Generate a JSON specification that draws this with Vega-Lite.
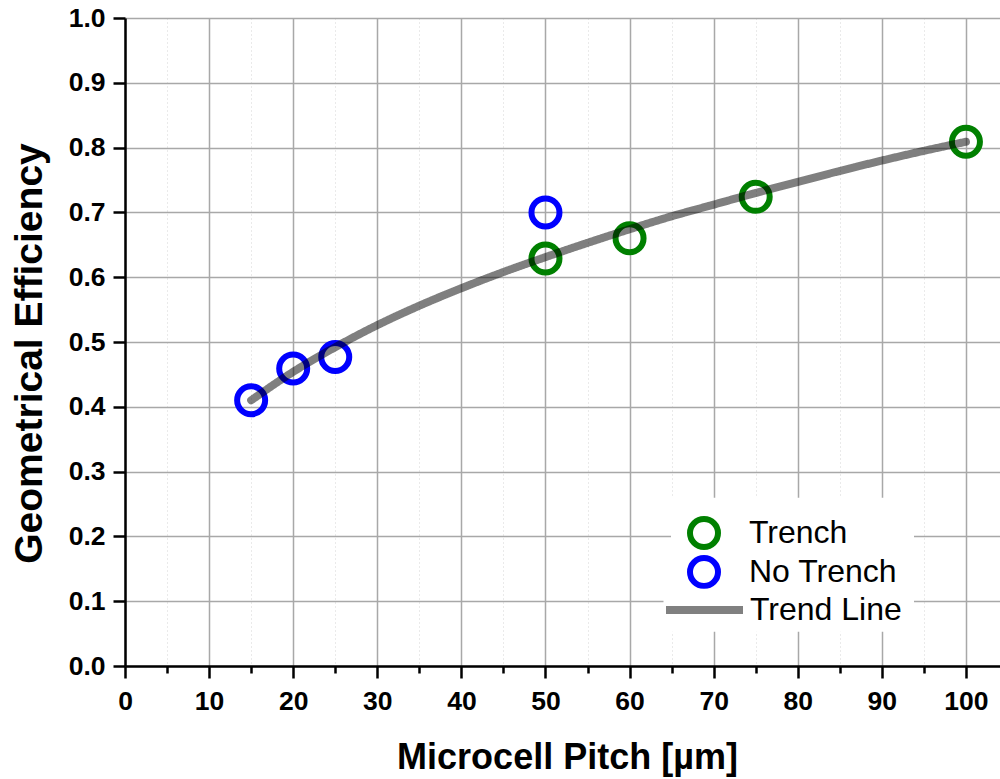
{
  "$schema": "https://vega.github.io/schema/vega-lite/v6.json",
  "width": 875,
  "height": 648,
  "autosize": "none",
  "padding": {"left": 125, "top": 18, "right": 0, "bottom": 113},
  "background": "white",
  "config": {
    "view": {"stroke": null},
    "font": "Liberation Sans"
  },
  "datasets": {
    "pts": [
      {"pitch": 50, "eff": 0.629, "series": "Trench"},
      {"pitch": 60, "eff": 0.660, "series": "Trench"},
      {"pitch": 75, "eff": 0.724, "series": "Trench"},
      {"pitch": 100, "eff": 0.809, "series": "Trench"},
      {"pitch": 15, "eff": 0.410, "series": "No Trench"},
      {"pitch": 20, "eff": 0.459, "series": "No Trench"},
      {"pitch": 25, "eff": 0.477, "series": "No Trench"},
      {"pitch": 50, "eff": 0.700, "series": "No Trench"}
    ],
    "trend": [
      {"pitch": 15, "eff": 0.410, "series": "Trend Line"},
      {"pitch": 20, "eff": 0.454, "series": "Trend Line"},
      {"pitch": 25, "eff": 0.492, "series": "Trend Line"},
      {"pitch": 30, "eff": 0.526, "series": "Trend Line"},
      {"pitch": 35, "eff": 0.556, "series": "Trend Line"},
      {"pitch": 40, "eff": 0.583, "series": "Trend Line"},
      {"pitch": 45, "eff": 0.608, "series": "Trend Line"},
      {"pitch": 50, "eff": 0.631, "series": "Trend Line"},
      {"pitch": 55, "eff": 0.653, "series": "Trend Line"},
      {"pitch": 60, "eff": 0.674, "series": "Trend Line"},
      {"pitch": 65, "eff": 0.694, "series": "Trend Line"},
      {"pitch": 70, "eff": 0.712, "series": "Trend Line"},
      {"pitch": 75, "eff": 0.730, "series": "Trend Line"},
      {"pitch": 80, "eff": 0.747, "series": "Trend Line"},
      {"pitch": 85, "eff": 0.764, "series": "Trend Line"},
      {"pitch": 90, "eff": 0.780, "series": "Trend Line"},
      {"pitch": 95, "eff": 0.795, "series": "Trend Line"},
      {"pitch": 100, "eff": 0.809, "series": "Trend Line"}
    ]
  },
  "layer": [
    {
      "data": {"name": "pts"},
      "mark": {"type": "point", "shape": "circle", "filled": false, "strokeWidth": 6, "size": 784, "opacity": 1},
      "encoding": {
        "x": {
          "field": "pitch", "type": "quantitative",
          "scale": {"domain": [0, 104.05], "nice": false, "zero": false},
          "axis": {
            "title": "Microcell Pitch [µm]",
            "titleFontSize": 36, "titleFontWeight": "bold", "titleColor": "black", "titleFont": "Liberation Sans",
            "titlePadding": 26, "titleX": 442,
            "values": [0,5,10,15,20,25,30,35,40,45,50,55,60,65,70,75,80,85,90,95,100],
            "labelExpr": "datum.value % 10 === 0 ? datum.label : ''",
            "labelFontSize": 26.5, "labelFontWeight": "bold", "labelColor": "black", "labelFont": "Liberation Sans",
            "labelPadding": 10, "labelFlush": false, "labelOverlap": false,
            "domainColor": "black", "domainWidth": 2.5,
            "tickColor": "black", "tickWidth": 2.5,
            "tickSize": {"condition": {"test": "datum.value % 10 === 0", "value": 12}, "value": 7},
            "grid": true,
            "gridColor": {"condition": {"test": "datum.value % 10 === 0", "value": "#a8a8a8"}, "value": "#d4d4d4"},
            "gridDash": {"condition": {"test": "datum.value % 10 === 0", "value": []}, "value": [1, 3]},
            "gridWidth": {"condition": {"test": "datum.value % 10 === 0", "value": 1.5}, "value": 1}
          }
        },
        "y": {
          "field": "eff", "type": "quantitative",
          "scale": {"domain": [0, 1], "nice": false, "zero": false},
          "axis": {
            "title": "Geometrical Efficiency",
            "titleFontSize": 39, "titleFontWeight": "bold", "titleColor": "black", "titleFont": "Liberation Sans",
            "titlePadding": 19, "titleY": 335,
            "values": [0,0.05,0.1,0.15,0.2,0.25,0.3,0.35,0.4,0.45,0.5,0.55,0.6,0.65,0.7,0.75,0.8,0.85,0.9,0.95,1.0],
            "format": ".1f",
            "labelExpr": "abs(datum.value*10 - round(datum.value*10)) < 0.001 ? datum.label : ''",
            "labelFontSize": 26.5, "labelFontWeight": "bold", "labelColor": "black", "labelFont": "Liberation Sans",
            "labelPadding": 8, "labelFlush": false, "labelOverlap": false,
            "domainColor": "black", "domainWidth": 2.5,
            "tickColor": "black", "tickWidth": 2.5,
            "tickSize": {"condition": {"test": "abs(datum.value*10 - round(datum.value*10)) < 0.001", "value": 12}, "value": 7},
            "grid": true,
            "gridColor": {"condition": {"test": "abs(datum.value*10 - round(datum.value*10)) < 0.001", "value": "#a8a8a8"}, "value": "#d4d4d4"},
            "gridDash": {"condition": {"test": "abs(datum.value*10 - round(datum.value*10)) < 0.001", "value": []}, "value": [1, 3]},
            "gridWidth": {"condition": {"test": "abs(datum.value*10 - round(datum.value*10)) < 0.001", "value": 1.5}, "value": 1}
          }
        },
        "color": {
          "field": "series", "type": "nominal",
          "scale": {"domain": ["Trench", "No Trench"], "range": ["#008000", "#0000ff"]},
          "legend": {
            "title": null,
            "orient": "none",
            "legendX": 546,
            "legendY": 479.75,
            "padding": 16,
            "fillColor": "white",
            "strokeColor": null,
            "labelFontSize": 32,
            "labelFont": "Liberation Sans",
            "labelColor": "black",
            "labelOffset": 28,
            "rowPadding": 0,
            "clipHeight": 38.5,
            "symbolType": "circle",
            "symbolSize": 784,
            "symbolStrokeWidth": 6,
            "symbolFillColor": "transparent"
          }
        }
      }
    },
    {
      "data": {"name": "trend"},
      "mark": {"type": "line", "color": "black", "opacity": 0.5, "strokeWidth": 8, "strokeCap": "round", "interpolate": "monotone"},
      "encoding": {
        "x": {"field": "pitch", "type": "quantitative"},
        "y": {"field": "eff", "type": "quantitative"},
        "strokeDash": {
          "field": "series", "type": "nominal",
          "scale": {"domain": ["Trend Line"], "range": [[1, 0]]},
          "legend": {
            "title": null,
            "orient": "none",
            "legendX": 538.5,
            "legendY": 570.75,
            "padding": 2,
            "fillColor": "white",
            "strokeColor": null,
            "labelFontSize": 32,
            "labelFont": "Liberation Sans",
            "labelColor": "black",
            "labelOffset": 27.5,
            "symbolOffset": 21,
            "clipHeight": 38.5,
            "symbolType": "M-2.75,0L2.75,0",
            "symbolSize": 784,
            "symbolStrokeWidth": 8,
            "symbolStrokeColor": "#808080",
            "symbolOpacity": 1,
            "symbolDash": [1, 0]
          }
        }
      }
    },
    {
      "mark": {"type": "rule", "color": "black", "strokeWidth": 2.5},
      "encoding": {"y": {"datum": 1}}
    }
  ]
}
